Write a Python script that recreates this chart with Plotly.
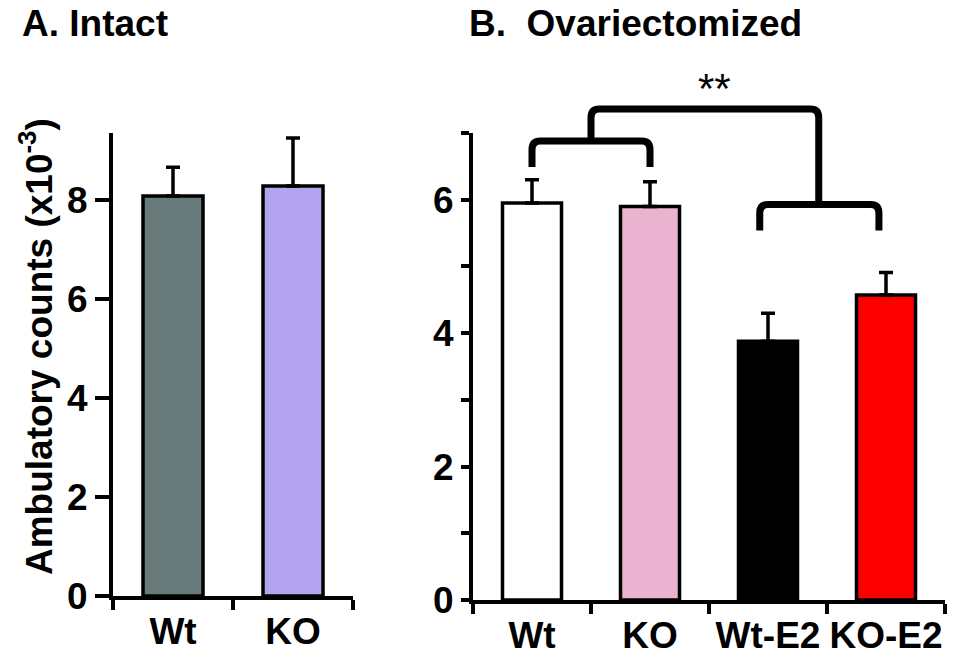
import plotly.graph_objects as go

# ---------------- data ----------------
intact_categories = ["Wt", "KO"]
intact_means = [8.08, 8.28]
intact_sem = [0.58, 0.97]
intact_colors = ["#687a7a", "#b3a4f0"]

ovx_categories = ["Wt", "KO", "Wt-E2", "KO-E2"]
ovx_means = [5.95, 5.90, 3.88, 4.57]
ovx_sem = [0.35, 0.37, 0.42, 0.34]
ovx_colors = ["#ffffff", "#eab4d0", "#000000", "#ff0000"]

intact_yticks = [0, 2, 4, 6, 8]
ovx_yticks = [0, 2, 4, 6]

# significance brackets (x in category index units, y in data units)
bracket_ctrl_x = [0.0, 1.0]      # Wt / KO
bracket_ctrl_y = [6.49, 6.88]    # leg bottom, bar level
bracket_e2_x = [1.93, 2.94]      # Wt-E2 / KO-E2
bracket_e2_y = [5.54, 5.93]
bracket_top_x = [0.5, 2.43]
bracket_top_y = 7.36
star_x, star_y, star_text = 1.55, 7.66, "**"

FONT = "Liberation Sans, Arial, Helvetica, sans-serif"
W, H = 955, 657
OFF = 8  # page body margin offset

# pixel layout of the axes (figure coordinates)
A_left, A_right, A_bottom, A_top = 105, 345, 588, 125
B_left, B_right, B_bottom, B_top = 465, 937, 592, 125
A_ymax = 9.35
B_ymax = 7.0
B_ext_top = 30  # extended invisible overlay area for brackets


def dx(a, b):
    return [a / W, b / W]


def dy(bottom, top):
    return [(H - bottom) / H, (H - top) / H]


fig = go.Figure()

fig.add_trace(go.Bar(
    x=list(range(len(intact_categories))), y=intact_means, width=0.5,
    marker=dict(color=intact_colors, line=dict(color="black", width=3.5)),
    error_y=dict(type="data", array=intact_sem, arrayminus=[0] * len(intact_sem),
                 symmetric=False, color="black", thickness=3.5, width=7),
    xaxis="x", yaxis="y", showlegend=False, hoverinfo="skip"))

fig.add_trace(go.Bar(
    x=list(range(len(ovx_categories))), y=ovx_means, width=0.5,
    marker=dict(color=ovx_colors, line=dict(color="black", width=3.5)),
    error_y=dict(type="data", array=ovx_sem, arrayminus=[0] * len(ovx_sem),
                 symmetric=False, color="black", thickness=3.5, width=7),
    xaxis="x2", yaxis="y2", showlegend=False, hoverinfo="skip"))

tickfont = dict(family=FONT, size=37, color="black", weight="bold")

common_x = dict(showline=True, linewidth=4, linecolor="black", showgrid=False,
                zeroline=False, ticks="outside", ticklen=0, automargin=False,
                tickcolor="rgba(0,0,0,0)", tickfont=tickfont, tickangle=0,
                minor=dict(ticks="outside", tick0=-0.5, dtick=1, ticklen=10,
                           tickwidth=4, tickcolor="black", showgrid=False))
common_y = dict(showline=True, linewidth=4, linecolor="black", showgrid=False,
                zeroline=False, ticks="outside", tickwidth=4, tickcolor="black",
                tickfont=tickfont, automargin=False)

B_unit = (B_bottom - B_top) / B_ymax
B_ext_max = (B_bottom - B_ext_top) / B_unit

fig.update_layout(
    width=W, height=H, margin=dict(l=0, r=0, t=0, b=0),
    paper_bgcolor="white", plot_bgcolor="rgba(0,0,0,0)",
    xaxis=dict(domain=dx(A_left, A_right), range=[-0.5, 1.5], anchor="y",
               tickvals=list(range(len(intact_categories))),
               ticktext=intact_categories, **common_x),
    yaxis=dict(domain=dy(A_bottom, A_top), range=[0, A_ymax], anchor="x",
               tickvals=intact_yticks, ticklen=14, **common_y),
    xaxis2=dict(domain=dx(B_left, B_right), range=[-0.5, 3.5], anchor="y2",
                tickvals=list(range(len(ovx_categories))),
                ticktext=ovx_categories, **common_x),
    yaxis2=dict(domain=dy(B_bottom, B_top), range=[0, B_ymax], anchor="x2",
                tickvals=ovx_yticks, ticklen=8,
                minor=dict(ticks="outside", tick0=0, dtick=1, ticklen=8,
                           tickwidth=4, tickcolor="black", showgrid=False),
                **common_y),
    xaxis3=dict(domain=dx(B_left, B_right), range=[-0.5, 3.5], anchor="y3",
                visible=False, automargin=False),
    yaxis3=dict(domain=dy(B_bottom, B_ext_top), range=[0, B_ext_max],
                anchor="x3", visible=False, automargin=False),
)

# invisible trace so the overlay subplot exists
fig.add_trace(go.Scatter(x=[-0.5], y=[0], mode="markers", marker=dict(opacity=0),
                         xaxis="x3", yaxis="y3", showlegend=False, hoverinfo="skip"))

rx, ry = 0.07, 0.13


def bracket_path(x0, x1, y0_bottom, y1_bottom, ytop):
    return (f"M {x0},{y0_bottom} L {x0},{ytop - ry} Q {x0},{ytop} {x0 + rx},{ytop} "
            f"L {x1 - rx},{ytop} Q {x1},{ytop} {x1},{ytop - ry} L {x1},{y1_bottom}")


paths = [
    bracket_path(bracket_ctrl_x[0], bracket_ctrl_x[1], bracket_ctrl_y[0], bracket_ctrl_y[0], bracket_ctrl_y[1]),
    bracket_path(bracket_e2_x[0], bracket_e2_x[1], bracket_e2_y[0], bracket_e2_y[0], bracket_e2_y[1]),
    bracket_path(bracket_top_x[0], bracket_top_x[1], bracket_ctrl_y[1], bracket_e2_y[1], bracket_top_y),
]
for p in paths:
    fig.add_shape(type="path", path=p, xref="x3", yref="y3",
                  line=dict(color="black", width=7))

fig.add_annotation(x=star_x, y=star_y, xref="x3", yref="y3", text=star_text,
                   showarrow=False, font=dict(family=FONT, size=42, color="black"))

title_font = dict(family=FONT, size=37, color="black", weight="bold")
fig.add_annotation(x=12 / W, y=1 + 7 / H, xref="paper", yref="paper", xanchor="left",
                   yanchor="top", text="A. Intact", showarrow=False, font=title_font)
fig.add_annotation(x=459 / W, y=1 + 7 / H, xref="paper", yref="paper", xanchor="left",
                   yanchor="top", text="B.  Ovariectomized", showarrow=False, font=title_font)
fig.add_annotation(x=(36 - OFF) / W, y=(H - (347 - OFF)) / H, xref="paper", yref="paper",
                   xanchor="center", yanchor="middle", textangle=-90,
                   text="Ambulatory counts (x10<sup>-3</sup>)", showarrow=False,
                   font=title_font)

fig.write_html("out.html")
